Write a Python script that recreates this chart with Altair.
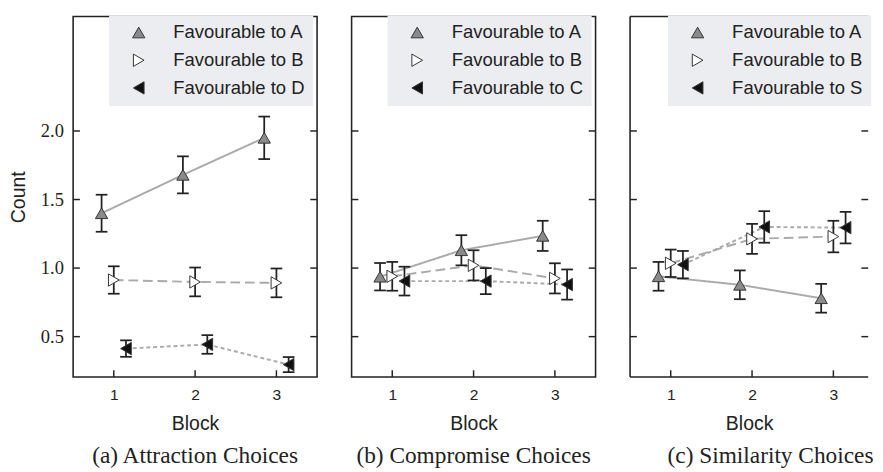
import altair as alt
import pandas as pd

BLOCKS = [1, 2, 3]
CAPTIONS = ["(a) Attraction Choices", "(b) Compromise Choices", "(c) Similarity Choices"]
SERIES = [
    ["Favourable to A", "Favourable to B", "Favourable to D"],
    ["Favourable to A", "Favourable to B", "Favourable to C"],
    ["Favourable to A", "Favourable to B", "Favourable to S"],
]

# Attraction
attr_A = [1.40, 1.68, 1.95]
attr_A_err = [0.135, 0.135, 0.155]
attr_B = [0.913, 0.899, 0.892]
attr_B_err = [0.10, 0.105, 0.105]
attr_D = [0.413, 0.443, 0.296]
attr_D_err = [0.06, 0.068, 0.055]

# Compromise
comp_A = [0.937, 1.13, 1.235]
comp_A_err = [0.10, 0.11, 0.11]
comp_B = [0.94, 1.02, 0.925]
comp_B_err = [0.105, 0.11, 0.11]
comp_C = [0.905, 0.905, 0.88]
comp_C_err = [0.105, 0.095, 0.11]

# Similarity
sim_A = [0.94, 0.878, 0.78]
sim_A_err = [0.105, 0.105, 0.105]
sim_B = [1.035, 1.213, 1.23]
sim_B_err = [0.10, 0.11, 0.115]
sim_S = [1.025, 1.30, 1.295]
sim_S_err = [0.10, 0.115, 0.115]

MEANS = [[attr_A, attr_B, attr_D], [comp_A, comp_B, comp_C], [sim_A, sim_B, sim_S]]
ERRS = [[attr_A_err, attr_B_err, attr_D_err], [comp_A_err, comp_B_err, comp_C_err],
        [sim_A_err, sim_B_err, sim_S_err]]
DODGE = [-0.15, 0.0, 0.15]

Y_TICKS = [0.5, 1.0, 1.5, 2.0]
X_TICKS = [1, 2, 3]
Y_DOMAIN = [0.205, 2.835]

SHAPES = ["triangle-up", "triangle-right", "triangle-left"]
FILLS = ["#8a8a8a", "#ffffff", "#111111"]
STROKES = ["#333333", "#333333", "#333333"]
SIZES = [160, 160, 160]
DASHES = [[1, 0], [10, 5], [4, 3]]

H = 371
INK = "#222222"


def make_df(i):
    rows = []
    for s, name in enumerate(SERIES[i]):
        for b, m, e in zip(BLOCKS, MEANS[i][s], ERRS[i][s]):
            rows.append({"series": name, "block": b, "xpos": b + DODGE[s],
                         "mean": m, "lo": m - e, "hi": m + e})
    return pd.DataFrame(rows)


def panel(i, width, xmax, show_y, cap_dx, legend_x, frame_rules):
    df = make_df(i)
    xs = alt.Scale(domain=[0.5, xmax], nice=False, zero=False)
    ys = alt.Scale(domain=Y_DOMAIN, nice=False, zero=False)
    xaxis = alt.Axis(values=X_TICKS, format="d", title="Block",
                     labelFont="Liberation Sans", labelFontSize=16, labelColor=INK,
                     titleFont="Liberation Sans", titleFontSize=20, titleFontWeight="normal",
                     titleColor=INK, ticks=False, domain=False, grid=False,
                     labelPadding=10, titlePadding=12)
    if show_y:
        yaxis = alt.Axis(values=Y_TICKS, format=".1f", title="Count",
                         labelFont="Liberation Serif", labelFontSize=19, labelColor=INK,
                         titleFont="Liberation Sans", titleFontSize=20, titleFontWeight="normal",
                         titleColor=INK, ticks=False, domain=False, grid=False,
                         labelPadding=10, titlePadding=12)
    else:
        yaxis = None

    def X(f):
        return alt.X(f, scale=xs, axis=xaxis)

    def Y(f):
        return alt.Y(f, scale=ys, axis=yaxis)

    leg = alt.Legend(title=None, orient="none", legendX=legend_x, legendY=-1,
                     symbolSize=160, symbolStrokeColor="#333333", symbolStrokeWidth=1,
                     fillColor="#ebedf0", padding=8, symbolOffset=13, labelOffset=26,
                     labelFont="Liberation Sans", labelFontSize=19, labelColor=INK,
                     labelLimit=300, rowPadding=8.5)

    base = alt.Chart(df)
    lines = [
        base.transform_filter(alt.datum.series == SERIES[i][s]).mark_line(
            color="#aaaaaa", strokeWidth=2, strokeDash=DASHES[s]
        ).encode(x=X("xpos:Q"), y=Y("mean:Q"))
        for s in range(3)
    ]
    bars = base.mark_rule(color=INK, strokeWidth=1.8).encode(
        x=X("xpos:Q"), y=Y("lo:Q"), y2="hi:Q")
    cap_lo = base.mark_tick(orient="horizontal", size=12, thickness=1.8, color=INK,
                            opacity=1).encode(x=X("xpos:Q"), y=Y("lo:Q"))
    cap_hi = base.mark_tick(orient="horizontal", size=12, thickness=1.8, color=INK,
                            opacity=1).encode(x=X("xpos:Q"), y=Y("hi:Q"))
    pts = base.mark_point(filled=False, strokeWidth=1, opacity=1).encode(
        x=X("xpos:Q"), y=Y("mean:Q"),
        shape=alt.Shape("series:N", scale=alt.Scale(domain=SERIES[i], range=SHAPES), legend=leg),
        fill=alt.Fill("series:N", scale=alt.Scale(domain=SERIES[i], range=FILLS), legend=leg),
        stroke=alt.Stroke("series:N", scale=alt.Scale(domain=SERIES[i], range=STROKES), legend=leg),
        size=alt.Size("series:N", scale=alt.Scale(domain=SERIES[i], range=SIZES), legend=leg),
    )

    ydf = pd.DataFrame({"v": Y_TICKS})
    xdf = pd.DataFrame({"v": X_TICKS})
    tk = dict(color=INK, strokeWidth=1.5)
    ticks = [
        alt.Chart(ydf).mark_rule(**tk).encode(y=Y("v:Q"), x=alt.value(0), x2=alt.value(7)),
        alt.Chart(ydf).mark_rule(**tk).encode(y=Y("v:Q"), x=alt.value(width - 7), x2=alt.value(width)),
        alt.Chart(xdf).mark_rule(**tk).encode(x=X("v:Q"), y=alt.value(0), y2=alt.value(7)),
        alt.Chart(xdf).mark_rule(**tk).encode(x=X("v:Q"), y=alt.value(H - 7), y2=alt.value(H)),
    ]
    layers = lines + [bars, cap_lo, cap_hi, pts] + ticks
    props = dict(width=width, height=H,
                 title=alt.TitleParams(CAPTIONS[i], orient="bottom", font="Liberation Serif",
                                       fontSize=24, fontWeight="normal", color=INK,
                                       offset=11, dx=cap_dx))
    if frame_rules:
        one = pd.DataFrame({"k": [0]})
        fw = dict(color=INK, strokeWidth=1.6)
        layers += [
            alt.Chart(one).mark_rule(**fw).encode(x=alt.value(0), x2=alt.value(width), y=alt.value(0)),
            alt.Chart(one).mark_rule(**fw).encode(x=alt.value(0), x2=alt.value(width), y=alt.value(H)),
            alt.Chart(one).mark_rule(**fw).encode(x=alt.value(0), y=alt.value(0), y2=alt.value(H)),
        ]
        props["view"] = alt.ViewBackground(stroke="transparent")
    return alt.layer(*layers).properties(**props)


p1 = panel(0, 251, 3.5, True, 0, 37, False)
p2 = panel(1, 251, 3.5, False, 0, 37, False)
p3 = panel(2, 245, 0.5 + 245 / 83.67, False, 22, 39, True)

chart = alt.hconcat(p1, p2, p3, spacing=31.5).resolve_scale(
    x="independent", y="independent", shape="independent", fill="independent",
    stroke="independent", size="independent"
).properties(
    padding={"left": 0, "top": 0, "right": 0, "bottom": 0}
).configure_view(stroke=INK, strokeWidth=1.6).configure_axis(grid=False)

chart.save("out.html", embed_options={"renderer": "svg", "actions": False})
